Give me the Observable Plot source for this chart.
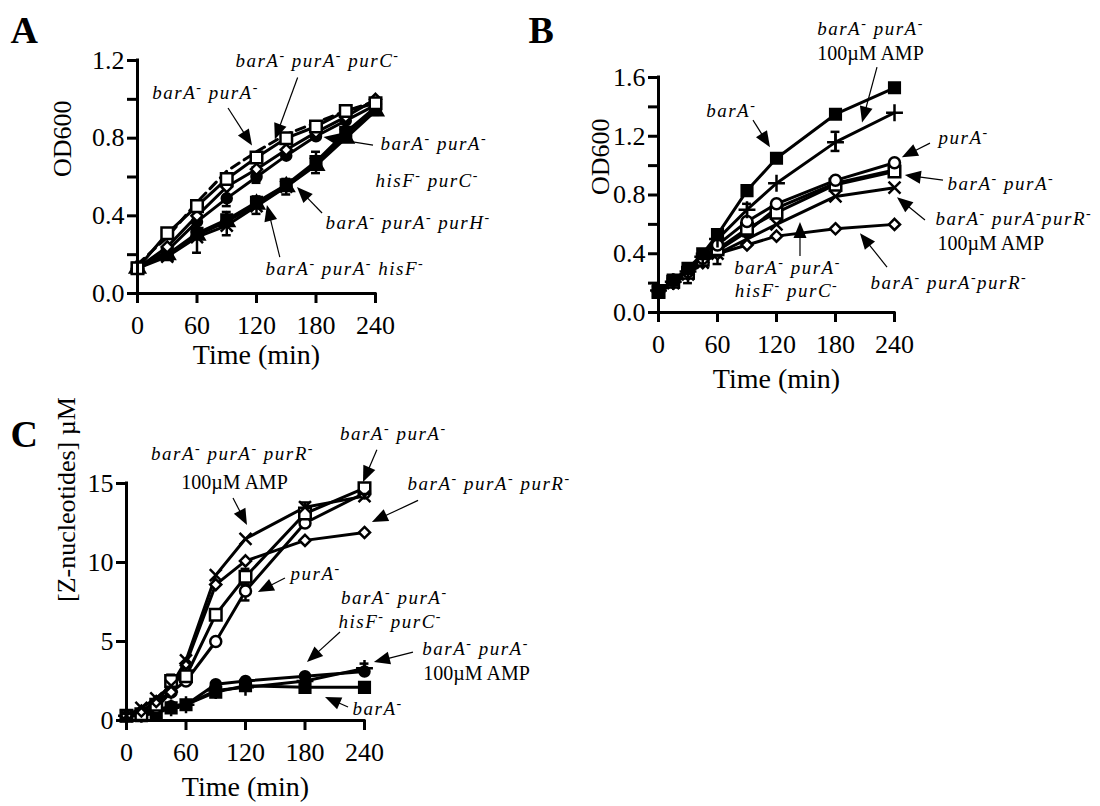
<!DOCTYPE html>
<html>
<head>
<meta charset="utf-8">
<script src="https://cdn.jsdelivr.net/npm/d3@7"></script>
<script src="https://cdn.jsdelivr.net/npm/@observablehq/plot@0.6"></script>
<style>
  body { margin: 0; background: #fff; }
  #fig { position: relative; width: 1100px; height: 806px; background: #fff; overflow: hidden; }
  #fig svg { position: absolute; overflow: visible; }
  g[font-style="italic"] text { letter-spacing: 1.5px; }
</style>
</head>
<body>
<div id="fig"></div>
<script>
// ---------------- Panel A: OD600 ----------------
const timeA = [0, 30, 60, 90, 120, 150, 180, 210, 240];
const A_barA_purA      = [0.13, 0.31, 0.45, 0.59, 0.70, 0.80, 0.86, 0.94, 0.98]; // open square
const A_dashed         = [0.15, 0.29, 0.47, 0.63, 0.73, 0.82, 0.88, 0.94, 0.99]; // dashed line
const A_barA_purA_purC = [0.13, 0.24, 0.40, 0.55, 0.64, 0.74, 0.83, 0.91, 1.00]; // open diamond
const A_fillCircle     = [0.13, 0.22, 0.37, 0.49, 0.60, 0.71, 0.81, 0.89, 0.97]; // filled circle
const A_barA_purA_hisF = [0.13, 0.19, 0.29, 0.35, 0.45, 0.55, 0.67, 0.82, 0.95]; // times
const A_barA_purA_purH = [0.13, 0.20, 0.30, 0.37, 0.46, 0.55, 0.66, 0.80, 0.94]; // filled triangle
const A_hisF_purC      = [0.13, 0.20, 0.31, 0.38, 0.47, 0.56, 0.68, 0.83, 0.96]; // filled square
const errA_t  = [60, 90, 120, 150, 180, 90, 120, 240];
const errA_lo = [0.21, 0.30, 0.41, 0.51, 0.62, 0.45, 0.57, 0.92];
const errA_hi = [0.37, 0.42, 0.50, 0.59, 0.73, 0.56, 0.65, 1.00];
const yTicksA = [0, 0.4, 0.8, 1.2];
const yMinorA = [0.2, 0.6, 1.0];
const labelsA = [
  {text: "barA⁻ purA⁻", t: 68.6, v: 1.035, anchor: "middle"},
  {text: "barA⁻ purA⁻ purC⁻", t: 181.5, v: 1.20, anchor: "middle"},
  {text: "barA⁻ purA⁻", t: 245, v: 0.772, anchor: "start"},
  {text: "hisF⁻ purC⁻", t: 240, v: 0.58, anchor: "start"},
  {text: "barA⁻ purA⁻ purH⁻", t: 189.6, v: 0.366, anchor: "start"},
  {text: "barA⁻ purA⁻ hisF⁻", t: 129, v: 0.129, anchor: "start"}
];
const arrowsA = [
  {t1: 91.8, v1: 0.953, t2: 116, v2: 0.76},
  {t1: 162, v1: 1.11, t2: 139, v2: 0.79},
  {t1: 238, v1: 0.762, t2: 188, v2: 0.803},
  {t1: 186.6, v1: 0.412, t2: 161.3, v2: 0.546},
  {t1: 144, v1: 0.185, t2: 131, v2: 0.453}
];

// ---------------- Panel B: OD600 ----------------
const timeB = [0, 15, 30, 45, 60, 90, 120, 180, 240];
const B_barA           = [0.15, 0.22, 0.30, 0.40, 0.53, 0.83, 1.05, 1.35, 1.53]; // filled square
const B_barA_purA_AMP  = [0.15, 0.21, 0.28, 0.38, 0.50, 0.70, 0.88, 1.16, 1.36]; // plus
const B_purA           = [0.14, 0.22, 0.28, 0.37, 0.46, 0.62, 0.74, 0.90, 1.02]; // open circle
const B_barA_purA      = [0.14, 0.21, 0.27, 0.36, 0.43, 0.57, 0.68, 0.87, 0.96]; // open square
const B_hisF_purC      = [0.14, 0.21, 0.27, 0.35, 0.42, 0.55, 0.71, 0.88, 0.97]; // filled circle
const B_purR_AMP       = [0.14, 0.20, 0.26, 0.34, 0.40, 0.50, 0.60, 0.79, 0.85]; // times
const B_purR           = [0.14, 0.20, 0.26, 0.34, 0.40, 0.46, 0.52, 0.57, 0.60]; // open diamond
const errB_t  = [180, 60, 90, 90, 30];
const errB_lo = [1.10, 0.33, 0.64, 0.52, 0.20];
const errB_hi = [1.23, 0.45, 0.74, 0.62, 0.30];
const yTicksB = [0, 0.4, 0.8, 1.2, 1.6];
const yMinorB = [0.2, 0.6, 1.0, 1.4];
const labelsB = [
  {text: "barA⁻ purA⁻", t: 215.6, v: 1.93, anchor: "middle"},
  {text: "100µM AMP", t: 215.6, v: 1.76, anchor: "middle"},
  {text: "barA⁻", t: 74, v: 1.374, anchor: "middle"},
  {text: "purA⁻", t: 284.8, v: 1.19, anchor: "start"},
  {text: "barA⁻ purA⁻", t: 294, v: 0.878, anchor: "start"},
  {text: "barA⁻ purA⁻purR⁻", t: 281.7, v: 0.639, anchor: "start"},
  {text: "100µM AMP", t: 283.7, v: 0.469, anchor: "start"},
  {text: "barA⁻ purA⁻purR⁻", t: 215.6, v: 0.204, anchor: "start"},
  {text: "barA⁻ purA⁻", t: 131.2, v: 0.306, anchor: "middle"},
  {text: "hisF⁻ purC⁻", t: 130.2, v: 0.150, anchor: "middle"}
];
const arrowsB = [
  {t1: 222.7, v1: 1.667, t2: 207.5, v2: 1.29},
  {t1: 96.6, v1: 1.306, t2: 113.9, v2: 1.122},
  {t1: 276.6, v1: 1.15, t2: 248, v2: 1.054},
  {t1: 289.8, v1: 0.898, t2: 251, v2: 0.932},
  {t1: 271.5, v1: 0.626, t2: 243, v2: 0.782},
  {t1: 232.9, v1: 0.306, t2: 205.4, v2: 0.537},
  {t1: 144.4, v1: 0.381, t2: 144.4, v2: 0.612}
];

// ---------------- Panel C: Z-nucleotides ----------------
const timeC = [0, 15, 30, 45, 60, 90, 120, 180, 240];
const C_purR_AMP       = [0.3, 0.8, 1.4, 2.2, 3.8, 9.2, 11.5, 13.5, 14.2]; // times
const C_purR           = [0.3, 0.6, 1.2, 1.8, 3.6, 8.6, 10.1, 11.4, 11.9]; // open diamond
const C_barA_purA      = [0.3, 0.4, 1.0, 2.5, 2.8, 6.7, 9.1, 13.1, 14.7];  // open square
const C_purA           = [0.3, 0.4, 0.8, 1.8, 2.5, 5.0, 8.2, 12.5, 14.4];  // open circle
const C_hisF_purC      = [0.3, 0.4, 0.6, 0.9, 1.0, 2.3, 2.5, 2.8, 3.1];    // filled circle
const C_barA_purA_AMP  = [0.3, 0.4, 0.6, 0.8, 1.0, 1.9, 2.1, 2.5, 3.3];    // plus
const C_barA           = [0.3, 0.3, 0.5, 0.8, 1.0, 1.8, 2.2, 2.1, 2.1];    // filled square
const errC_t  = [45, 120, 120, 180, 240, 0];
const errC_lo = [2.1, 8.6, 7.6, 13.2, 3.0, 0.0];
const errC_hi = [2.9, 9.6, 8.6, 13.8, 3.6, 0.6];
const yTicksC = [0, 5, 10, 15];
const labelsC = [
  {text: "barA⁻ purA⁻ purR⁻", t: 106.9, v: 16.9, anchor: "middle"},
  {text: "100µM AMP", t: 108.9, v: 15.06, anchor: "middle"},
  {text: "barA⁻ purA⁻", t: 269, v: 18.16, anchor: "middle"},
  {text: "barA⁻ purA⁻ purR⁻", t: 283.4, v: 15.0, anchor: "start"},
  {text: "purA⁻", t: 165.4, v: 9.30, anchor: "start"},
  {text: "barA⁻ purA⁻", t: 270, v: 7.78, anchor: "middle"},
  {text: "hisF⁻ purC⁻", t: 266, v: 6.27, anchor: "middle"},
  {text: "barA⁻ purA⁻", t: 352, v: 4.56, anchor: "middle"},
  {text: "100µM AMP", t: 353, v: 2.97, anchor: "middle"},
  {text: "barA⁻", t: 227.9, v: 0.76, anchor: "start"}
];
const arrowsC = [
  {t1: 107.9, v1: 14.05, t2: 122, v2: 12.34},
  {t1: 253, v1: 17.1, t2: 239, v2: 15.06},
  {t1: 294.5, v1: 13.9, t2: 248, v2: 12.53},
  {t1: 160.3, v1: 8.99, t2: 133, v2: 8.10},
  {t1: 215.8, v1: 5.57, t2: 182.5, v2: 3.67},
  {t1: 289.4, v1: 4.30, t2: 250, v2: 3.67},
  {t1: 223.9, v1: 0.82, t2: 200.7, v2: 1.46}
];
const xTicks = [0, 60, 120, 180, 240];

// ---------------- styles (kept apart from the data) ----------------
const MK = {
  openSquare:   {symbol: "square",   fill: "white", r: 6.5},
  fillSquare:   {symbol: "square",   fill: "black", r: 6},
  openCircle:   {symbol: "circle",   fill: "white", r: 5.5},
  fillCircle:   {symbol: "circle",   fill: "black", r: 5},
  openDiamond:  {symbol: "diamond2", fill: "white", r: 5},
  plus:         {symbol: "plus",     fill: "none",  r: 5.5},
  times:        {symbol: "times",    fill: "none",  r: 5.5},
  fillTriangle: {symbol: "triangle", fill: "black", r: 5.5}
};

const ns = "http://www.w3.org/2000/svg";
function arrowMark(arrows) {
  return (index, scales) => {
    const g = document.createElementNS(ns, "g");
    g.setAttribute("aria-label", "annotation arrows");
    for (const a of arrows) {
      const x1 = scales.x(a.t1), y1 = scales.y(a.v1), x2 = scales.x(a.t2), y2 = scales.y(a.v2);
      const dx = x2 - x1, dy = y2 - y1, L = Math.hypot(dx, dy) || 1;
      const ux = dx / L, uy = dy / L, hl = 16, hw = 6.5;
      const bx = x2 - ux * hl, by = y2 - uy * hl;
      const line = document.createElementNS(ns, "line");
      line.setAttribute("x1", x1); line.setAttribute("y1", y1);
      line.setAttribute("x2", bx + ux * 2); line.setAttribute("y2", by + uy * 2);
      line.setAttribute("stroke", "black"); line.setAttribute("stroke-width", 1.2);
      g.appendChild(line);
      const poly = document.createElementNS(ns, "polygon");
      poly.setAttribute("points", `${x2},${y2} ${bx - uy * hw},${by + ux * hw} ${bx + uy * hw},${by - ux * hw}`);
      poly.setAttribute("fill", "black");
      g.appendChild(poly);
    }
    return g;
  };
}

function labelMarks(labels) {
  const out = [];
  for (const anchor of ["start", "middle"]) {
    for (const italic of [true, false]) {
      const d = labels.filter(l => l.anchor === anchor && (!l.text.includes("AMP")) === italic);
      if (d.length) out.push(Plot.text(d, {
        x: "t", y: "v", text: "text", textAnchor: anchor,
        fontStyle: italic ? "italic" : "normal", fontSize: italic ? 19 : 20, fill: "black"
      }));
    }
  }
  return out;
}

// turn the "⁻" marks into small raised dashes (real text, in tspans)
function superscripts(svg) {
  svg.querySelectorAll("text").forEach(t => {
    const s = t.textContent;
    if (!s.includes("⁻")) return;
    t.textContent = "";
    const parts = s.split("⁻");
    let raised = false;
    parts.forEach((p, i) => {
      if (p) {
        const ts = document.createElementNS(ns, "tspan");
        ts.textContent = p;
        if (raised) { ts.setAttribute("dy", "7"); raised = false; }
        t.appendChild(ts);
      }
      if (i < parts.length - 1) {
        const sup = document.createElementNS(ns, "tspan");
        sup.textContent = "-";
        sup.setAttribute("dy", "-7");
        sup.setAttribute("font-size", "14");
        sup.setAttribute("font-style", "normal");
        t.appendChild(sup);
        raised = true;
      }
    });
  });
}

function panel(cfg) {
  const seriesMarks = [];
  const dotMarks = [];
  for (const s of cfg.series) {
    const rows = cfg.times.map((t, i) => ({t, v: s.values[i]}));
    seriesMarks.push(Plot.line(rows, {x: "t", y: "v", stroke: "black", strokeWidth: 3,
      strokeDasharray: s.dash ? "9,6" : null}));
    if (s.marker) {
      const m = MK[s.marker];
      dotMarks.push(Plot.dot(rows, {x: "t", y: "v", symbol: m.symbol, r: m.r, fill: m.fill,
        stroke: "black", strokeWidth: 2.5}));
    }
  }
  const err = cfg.errT.map((t, i) => ({t, lo: cfg.errLo[i], hi: cfg.errHi[i]}));
  const caps = err.flatMap(e => [{t: e.t, v: e.lo}, {t: e.t, v: e.hi}]);
  const yMin = d3.min(cfg.yTicks), yMax = d3.max(cfg.yTicks);
  const xMin = d3.min(xTicks), xMax = d3.max(xTicks);
  const svg = Plot.plot({
    width: cfg.width, height: cfg.height,
    marginLeft: cfg.ml, marginRight: cfg.mr, marginTop: cfg.mt, marginBottom: cfg.mb,
    x: {domain: [xMin, xMax], axis: null, label: null},
    y: {domain: [yMin, yMax], axis: null, label: null},
    style: {fontFamily: "'Liberation Serif', 'Times New Roman', serif", fontSize: "26px", color: "black", background: "white", overflow: "visible"},
    marks: [
      Plot.ruleX(err, {x: "t", y1: "lo", y2: "hi", stroke: "black", strokeWidth: 2.5}),
      Plot.ruleY(caps, {y: "v", x1: d => d.t - 4.5, x2: d => d.t + 4.5, stroke: "black", strokeWidth: 2.5}),
      ...seriesMarks,
      ...dotMarks,
      Plot.ruleX([xMin], {y1: yMin, y2: yMax, stroke: "black", strokeWidth: 3, strokeLinecap: "square"}),
      Plot.ruleY([yMin], {x1: xMin, x2: xMax, stroke: "black", strokeWidth: 3, strokeLinecap: "square"}),
      Plot.axisY({ticks: cfg.yTicks, tickFormat: cfg.yFormat, tickSize: 10, tickPadding: 3, strokeWidth: 3, label: null}),
      ...(cfg.yMinor ? [Plot.axisY({ticks: cfg.yMinor, tickFormat: () => "", tickSize: 10, strokeWidth: 3, label: null})] : []),
      Plot.axisX({ticks: xTicks, tickFormat: d3.format("d"), tickSize: 10, tickPadding: 12, strokeWidth: 3, label: null}),
      Plot.text([cfg.ylabel], {frameAnchor: "left", rotate: -90, dx: cfg.ylabelDx, fontSize: 26, fill: "black"}),
      Plot.text(["Time (min)"], {frameAnchor: "bottom", dy: cfg.xlabelDy, fontSize: 28, fill: "black"}),
      Plot.text([cfg.letter], {frameAnchor: "top-left", dx: cfg.letterDx, dy: cfg.letterDy, fontSize: 38, fontWeight: "bold", fill: "black"}),
      ...labelMarks(cfg.labels),
      arrowMark(cfg.arrows)
    ]
  });
  superscripts(svg);
  svg.style.left = cfg.left + "px";
  svg.style.top = cfg.top + "px";
  document.getElementById("fig").appendChild(svg);
}

panel({
  left: 0, top: 0, width: 520, height: 400, ml: 137, mr: 145, mt: 60, mb: 107,
  times: timeA,
  series: [
    {values: A_dashed, dash: true},
    {values: A_hisF_purC, marker: "fillSquare"},
    {values: A_barA_purA_purH, marker: "fillTriangle"},
    {values: A_barA_purA_hisF, marker: "times"},
    {values: A_fillCircle, marker: "fillCircle"},
    {values: A_barA_purA_purC, marker: "openDiamond"},
    {values: A_barA_purA, marker: "openSquare"}
  ],
  errT: errA_t, errLo: errA_lo, errHi: errA_hi,
  yTicks: yTicksA, yMinor: yMinorA, yFormat: d3.format(".1f"),
  ylabel: "OD600", ylabelDx: -75, xlabelDy: 70,
  letter: "A", letterDx: -127, letterDy: -44,
  labels: labelsA, arrows: arrowsA
});

panel({
  left: 520, top: 0, width: 580, height: 406, ml: 138, mr: 206, mt: 77, mb: 94,
  times: timeB,
  series: [
    {values: B_purR, marker: "openDiamond"},
    {values: B_purR_AMP, marker: "times"},
    {values: B_hisF_purC, marker: "fillCircle"},
    {values: B_barA_purA, marker: "openSquare"},
    {values: B_purA, marker: "openCircle"},
    {values: B_barA_purA_AMP, marker: "plus"},
    {values: B_barA, marker: "fillSquare"}
  ],
  errT: errB_t, errLo: errB_lo, errHi: errB_hi,
  yTicks: yTicksB, yMinor: yMinorB, yFormat: d3.format(".1f"),
  ylabel: "OD600", ylabelDx: -58, xlabelDy: 75,
  letter: "B", letterDx: -130, letterDy: -61,
  labels: labelsB, arrows: arrowsB
});

panel({
  left: 0, top: 400, width: 620, height: 406, ml: 126, mr: 256, mt: 83, mb: 86,
  times: timeC,
  series: [
    {values: C_barA, marker: "fillSquare"},
    {values: C_barA_purA_AMP, marker: "plus"},
    {values: C_hisF_purC, marker: "fillCircle"},
    {values: C_purA, marker: "openCircle"},
    {values: C_barA_purA, marker: "openSquare"},
    {values: C_purR, marker: "openDiamond"},
    {values: C_purR_AMP, marker: "times"}
  ],
  errT: errC_t, errLo: errC_lo, errHi: errC_hi,
  yTicks: yTicksC, yMinor: null, yFormat: d3.format("d"),
  ylabel: "[Z-nucleotides] µM", ylabelDx: -60, xlabelDy: 75,
  letter: "C", letterDx: -116, letterDy: -63,
  labels: labelsC, arrows: arrowsC
});
</script>
</body>
</html>
